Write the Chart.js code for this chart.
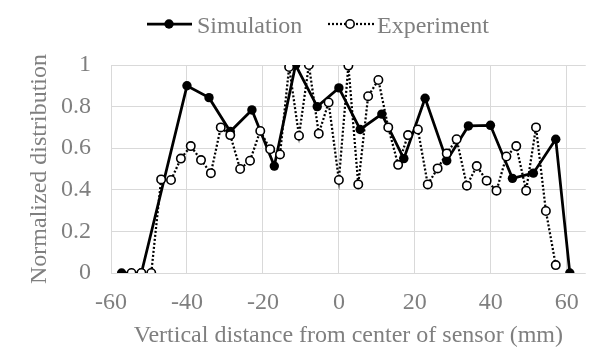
<!DOCTYPE html>
<html>
<head>
<meta charset="utf-8">
<script src="https://cdn.jsdelivr.net/npm/chart.js@4.4.1/dist/chart.umd.min.js"></script>
<style>
html,body{margin:0;padding:0;background:#fff;}
#wrap{position:relative;width:594px;height:348px;}
</style>
</head>
<body>
<div id="wrap"><canvas id="c" width="594" height="348"></canvas></div>
<script>
// ---- data ----
const seriesNames = ["Simulation", "Experiment"];
const simX = [-57.2, -52, -40, -34.2, -28.6, -22.9, -17.0, -11.4, -5.7, 0, 5.6, 11.3, 17.1, 22.7, 28.4, 34.1, 39.9, 45.7, 51.2, 57.1, 60.8];
const simY = [0, 0, 0.90, 0.843, 0.68, 0.784, 0.514, 1.0, 0.80, 0.89, 0.69, 0.764, 0.55, 0.84, 0.54, 0.707, 0.71, 0.455, 0.48, 0.643, 0];
const expX = [-54.6, -52, -49.4, -46.8, -44.2, -41.6, -39, -36.3, -33.7, -31.1, -28.6, -26, -23.4, -20.7, -18.1, -15.5, -13.1, -10.5, -7.9, -5.3, -2.7, 0, 2.5, 5.1, 7.7, 10.4, 13, 15.6, 18.2, 20.8, 23.4, 26, 28.4, 31, 33.7, 36.3, 38.9, 41.5, 44.1, 46.7, 49.3, 51.9, 54.5, 57.1];
const expY = [0, 0, 0, 0.45, 0.447, 0.55, 0.61, 0.543, 0.48, 0.70, 0.663, 0.50, 0.54, 0.683, 0.595, 0.57, 0.99, 0.66, 1.0, 0.67, 0.82, 0.447, 0.997, 0.426, 0.85, 0.928, 0.70, 0.52, 0.663, 0.69, 0.426, 0.503, 0.575, 0.643, 0.42, 0.514, 0.444, 0.396, 0.56, 0.61, 0.396, 0.70, 0.298, 0.038];
const xTicks = [-60, -40, -20, 0, 20, 40, 60];
const yTicks = [0, 0.2, 0.4, 0.6, 0.8, 1];
const xTitle = "Vertical distance from center of sensor (mm)";
const yTitle = "Normalized distribution";

const FONT = "'Liberation Serif', 'Times New Roman', serif";
const TXT = "#7f7f7f";
const GRID = "#d9d9d9";

const toPts = (xs, ys) => xs.map((x, i) => ({x: x, y: ys[i]}));

const legendPlugin = {
  id: 'customLegend',
  afterDraw(chart) {
    const ctx = chart.ctx;
    ctx.save();
    ctx.font = "24px " + FONT;
    ctx.textBaseline = "alphabetic";
    ctx.textAlign = "left";
    // Simulation
    ctx.strokeStyle = "#000";
    ctx.lineWidth = 2.75;
    ctx.setLineDash([]);
    ctx.beginPath(); ctx.moveTo(147, 24); ctx.lineTo(192, 24); ctx.stroke();
    ctx.fillStyle = "#000";
    ctx.beginPath(); ctx.arc(169, 24, 4.7, 0, Math.PI * 2); ctx.fill();
    ctx.fillStyle = TXT;
    ctx.fillText(seriesNames[0], 197, 33);
    // Experiment
    ctx.lineWidth = 2.25;
    ctx.setLineDash([2, 2]);
    ctx.beginPath(); ctx.moveTo(328, 24); ctx.lineTo(376, 24); ctx.stroke();
    ctx.setLineDash([]);
    ctx.fillStyle = "#fff";
    ctx.lineWidth = 1.6;
    ctx.beginPath(); ctx.arc(350, 24, 4.2, 0, Math.PI * 2); ctx.fill(); ctx.stroke();
    ctx.fillStyle = TXT;
    ctx.fillText(seriesNames[1], 377, 33);
    ctx.restore();
  }
};

new Chart(document.getElementById('c'), {
  type: 'line',
  data: {
    datasets: [
      {
        label: seriesNames[0],
        data: toPts(simX, simY),
        borderColor: '#000',
        backgroundColor: '#000',
        borderWidth: 2.75,
        pointRadius: 4.7,
        pointBackgroundColor: '#000',
        pointBorderColor: '#000',
        pointBorderWidth: 0,
        tension: 0,
        order: 1
      },
      {
        label: seriesNames[1],
        data: toPts(expX, expY),
        borderColor: '#000',
        backgroundColor: '#fff',
        borderWidth: 2.25,
        borderDash: [2, 2],
        pointRadius: 4.2,
        pointBackgroundColor: '#fff',
        pointBorderColor: '#000',
        pointBorderWidth: 1.6,
        tension: 0,
        order: 0
      }
    ]
  },
  options: {
    responsive: false,
    animation: false,
    layout: {padding: {top: 65, right: 4, left: 0, bottom: 0}},
    plugins: {legend: {display: false}, tooltip: {enabled: false}},
    scales: {
      x: {
        type: 'linear',
        min: -60,
        max: 65,
        afterBuildTicks: (s) => { s.ticks = xTicks.map(v => ({value: v})); },
        afterFit: (s) => { s.height = 75; },
        grid: {color: GRID, lineWidth: 1, drawTicks: false},
        border: {display: false},
        ticks: {
          padding: 15,
          color: TXT,
          font: {family: FONT, size: 24},
          maxRotation: 0,
          callback: (v) => String(v)
        },
        title: {
          display: true,
          text: xTitle,
          color: TXT,
          font: {family: FONT, size: 24},
          padding: {top: 0, bottom: -2.5}
        }
      },
      y: {
        type: 'linear',
        min: 0,
        max: 1,
        afterBuildTicks: (s) => { s.ticks = yTicks.map(v => ({value: v})); },
        afterFit: (s) => { s.width = 111; },
        grid: {color: GRID, lineWidth: 1, drawTicks: false},
        border: {display: false},
        ticks: {
          padding: 20,
          color: TXT,
          font: {family: FONT, size: 24},
          callback: (v) => String(Math.round(v * 10) / 10)
        },
        title: {
          display: true,
          text: yTitle,
          color: TXT,
          font: {family: FONT, size: 24},
          padding: {top: 25, bottom: 0}
        }
      }
    }
  },
  plugins: [legendPlugin]
});
</script>
</body>
</html>
